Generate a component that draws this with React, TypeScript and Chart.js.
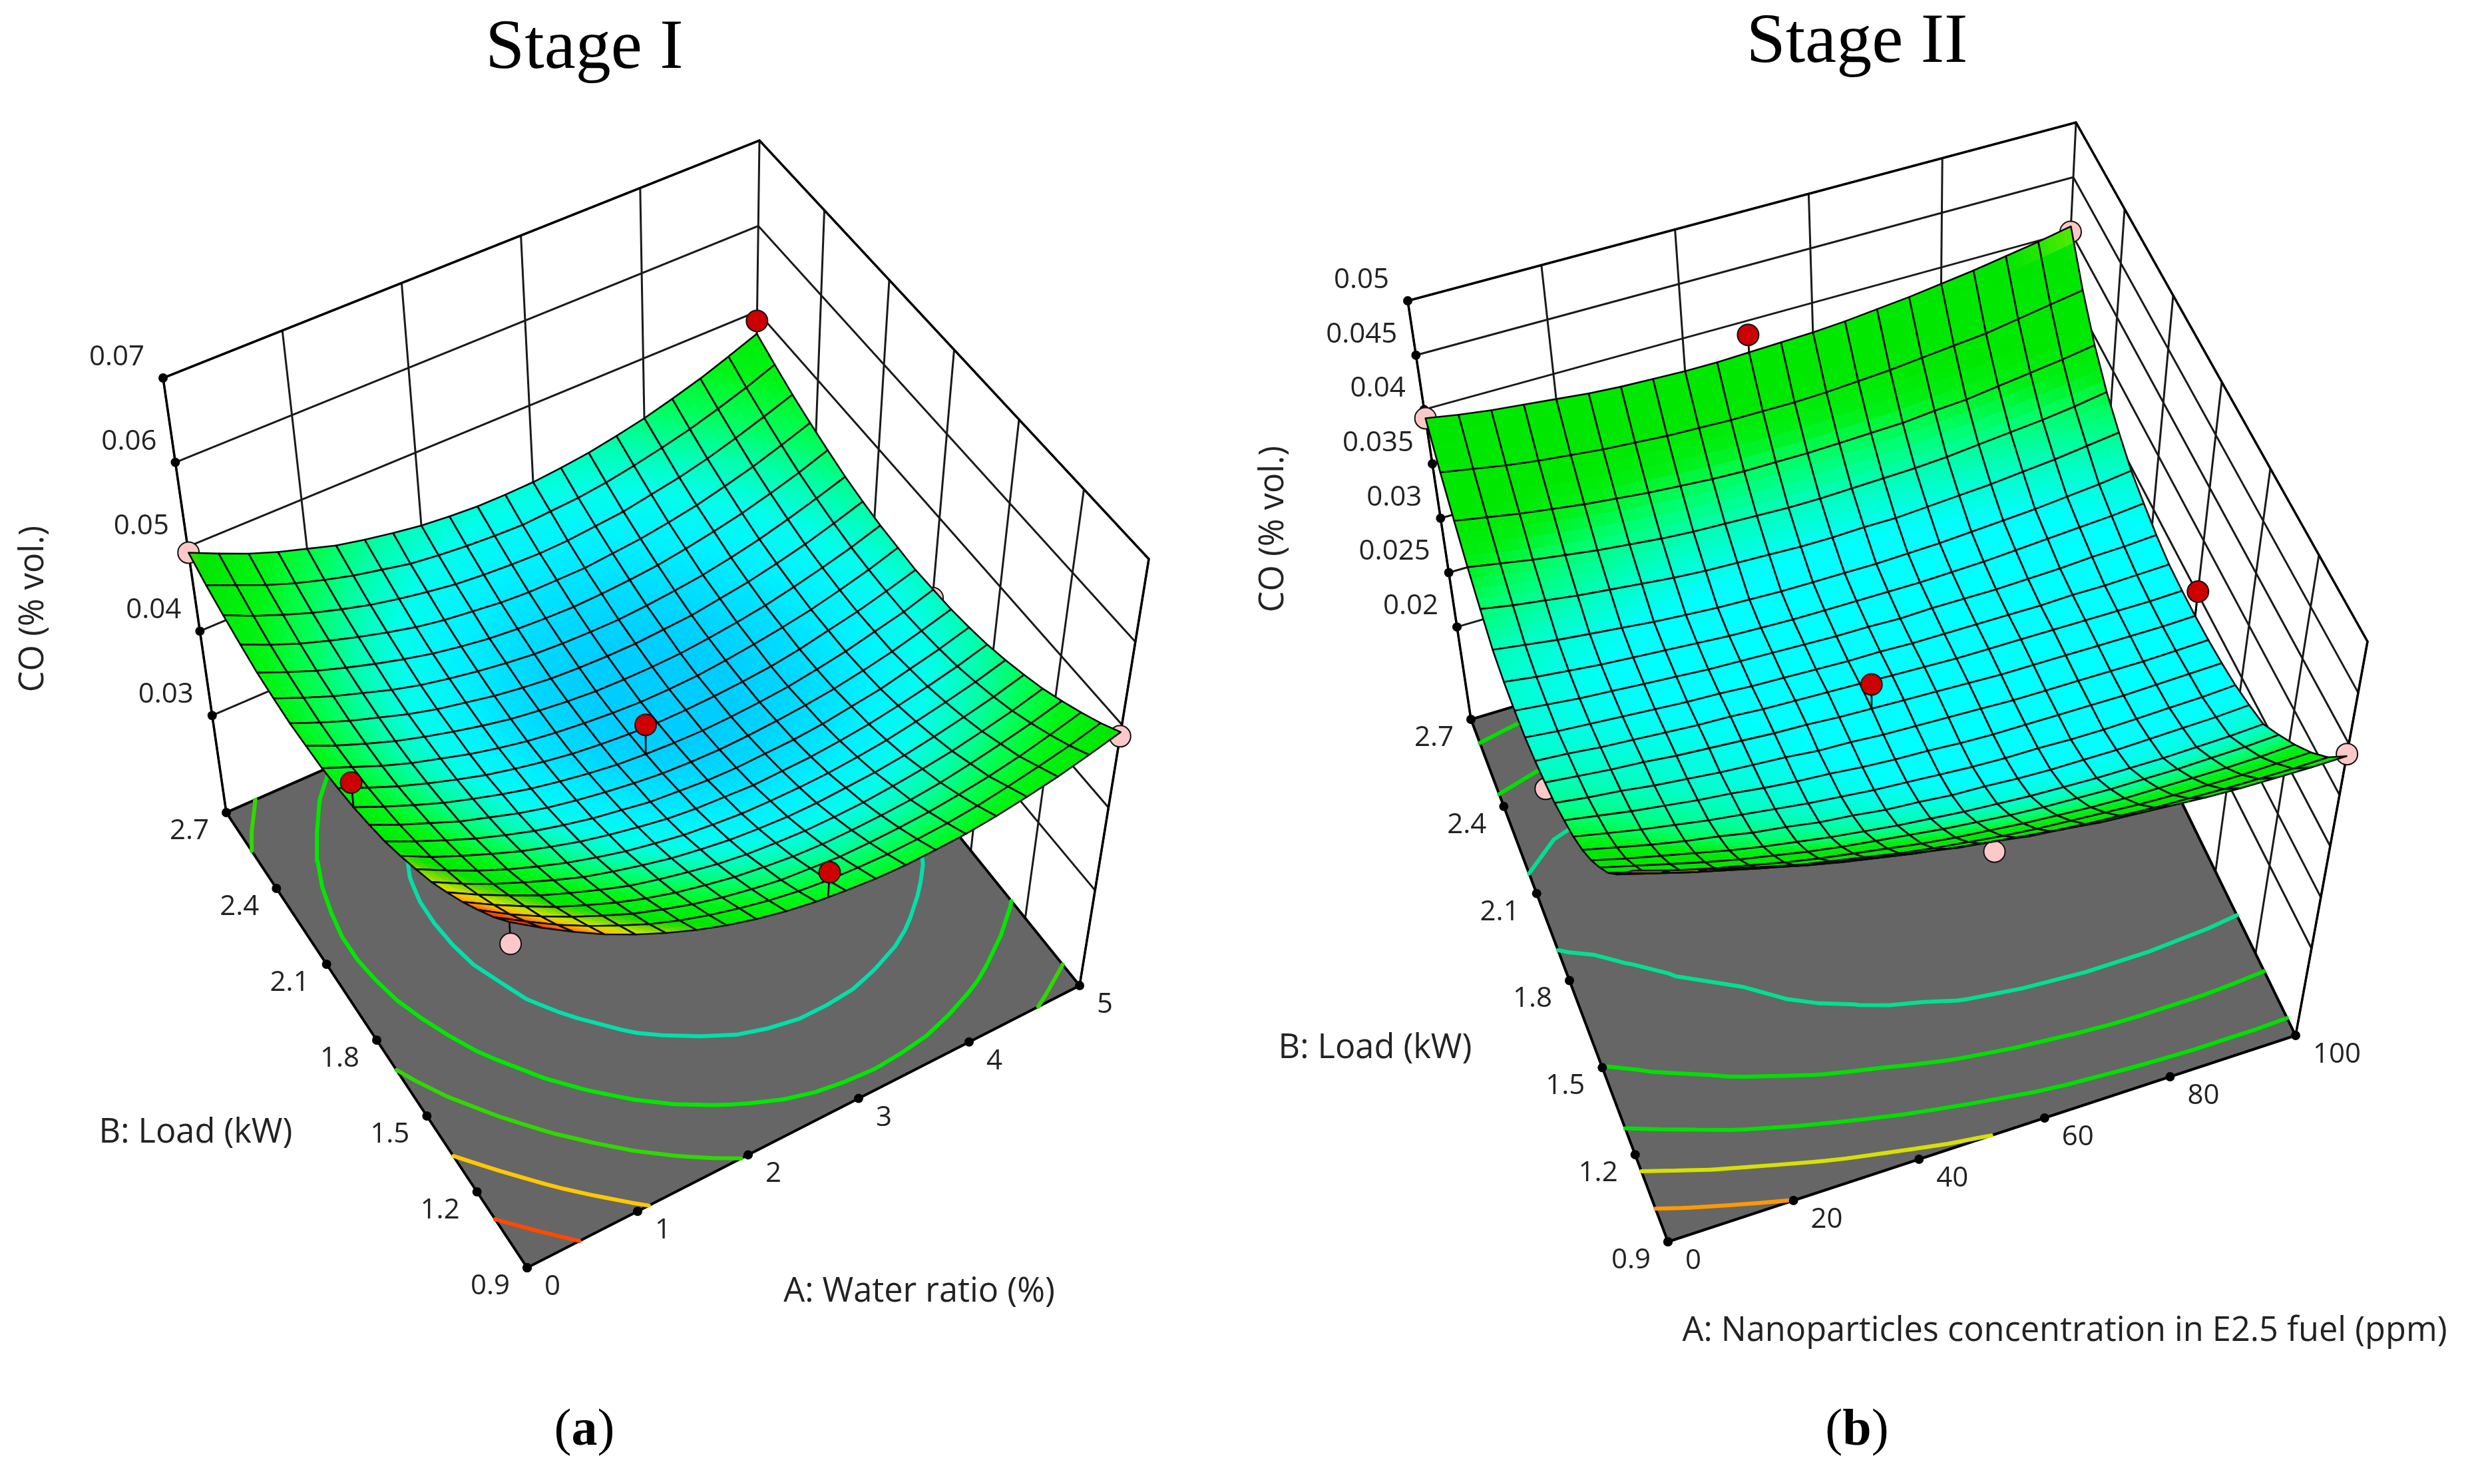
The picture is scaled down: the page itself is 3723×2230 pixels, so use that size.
import { useEffect, useRef } from 'react';
import { Chart, registerables } from 'chart.js';
Chart.register(...registerables);

const PAGE_H = 2230;
// Response-surface grid axes
const waterRatioGrid = [0,0.25,0.5,0.75,1,1.25,1.5,1.75,2,2.25,2.5,2.75,3,3.25,3.5,3.75,4,4.25,4.5,4.75,5];
const nanoGrid = [0,5,10,15,20,25,30,35,40,45,50,55,60,65,70,75,80,85,90,95,100];
const loadGrid = [0.9,0.99,1.08,1.17,1.26,1.35,1.44,1.53,1.62,1.71,1.8,1.89,1.98,2.07,2.16,2.25,2.34,2.43,2.52,2.61,2.7];
// CO (% vol.) x 10^-4, one row per load value, one column per A value
const coStageI = [
[613,588,565,544,526,510,496,484,474,466,460,456,453,452,453,455,459,465,472,481,491],
[590,567,545,526,509,493,480,469,460,452,446,442,440,439,440,442,446,452,459,467,477],
[570,547,527,509,493,478,466,455,446,439,433,430,427,427,428,430,434,439,446,455,465],
[551,530,511,493,478,464,452,442,434,427,422,418,416,416,417,419,423,429,436,444,454],
[534,514,496,479,465,452,440,431,423,416,411,408,406,406,407,410,414,419,426,434,444],
[518,499,482,467,453,440,430,421,413,407,402,399,397,397,399,401,405,411,418,426,436],
[505,487,470,455,442,430,420,411,404,398,394,391,390,390,391,394,398,404,411,419,429],
[493,475,460,446,433,422,412,404,397,391,387,385,383,384,385,388,392,398,405,413,423],
[482,466,451,437,425,414,405,397,391,385,382,379,378,379,380,383,388,393,401,409,419],
[474,458,444,430,419,408,399,392,386,381,377,375,374,375,377,380,384,390,397,406,416],
[467,452,438,425,414,404,395,388,382,377,374,372,371,372,374,377,382,388,396,404,415],
[462,447,433,421,410,400,392,385,379,375,372,370,370,371,373,376,381,388,395,404,414],
[458,444,430,418,408,398,390,383,378,374,371,369,369,370,373,377,382,388,396,405,416],
[457,442,429,417,407,398,390,383,378,374,371,370,370,371,374,378,383,390,398,407,418],
[456,442,429,418,407,398,391,384,379,375,373,372,372,374,376,381,386,393,401,411,422],
[458,444,431,420,409,400,393,387,382,378,376,375,375,377,380,384,390,397,406,416,427],
[461,447,434,423,413,404,396,390,385,382,380,379,380,382,385,390,396,403,412,422,434],
[467,452,439,428,418,409,401,395,391,387,385,385,385,388,391,396,402,410,419,430,442],
[474,459,446,434,424,415,408,402,397,394,392,391,392,395,398,404,410,418,428,439,451],
[482,468,454,442,432,423,416,409,405,402,400,399,401,403,407,413,420,428,438,449,462],
[493,478,464,452,442,432,425,419,414,411,409,409,410,413,417,423,430,439,449,461,474],
];
const coStageII = [
[479,469,460,451,443,435,428,422,416,410,406,401,398,394,392,390,388,387,387,387,388],
[450,440,431,423,415,407,400,394,388,383,378,374,370,367,365,363,362,361,361,361,362],
[422,413,404,396,388,381,375,369,363,358,354,350,347,345,343,341,340,340,340,341,342],
[397,388,380,372,365,358,352,347,342,337,333,330,327,325,323,322,322,322,322,323,325],
[376,368,360,352,345,339,333,328,324,320,316,313,310,308,307,306,306,306,307,308,310],
[357,349,342,335,328,322,317,312,308,304,301,298,296,294,293,292,292,292,293,294,296],
[341,334,327,321,316,310,306,301,298,294,292,289,288,286,285,285,285,286,287,288,290],
[328,322,316,311,306,302,298,294,291,288,286,284,282,281,281,280,280,281,282,283,285],
[318,313,308,304,300,297,293,290,288,285,283,282,280,279,279,279,279,279,280,281,282],
[309,305,302,298,295,292,290,288,285,284,282,281,280,279,278,278,278,278,278,279,280],
[303,300,297,295,292,290,288,286,285,283,282,281,280,279,278,278,278,278,278,278,279],
[298,296,293,291,289,287,286,284,283,282,281,280,279,278,278,278,278,278,278,278,279],
[295,292,290,288,286,284,283,281,280,279,278,278,277,277,277,277,277,278,278,279,280],
[295,292,289,287,285,283,281,280,279,278,277,277,276,277,277,277,278,279,281,282,284],
[297,293,290,287,285,283,281,279,278,277,277,277,277,277,278,279,281,283,285,287,290],
[302,298,294,291,288,285,283,281,280,279,279,279,279,280,281,283,285,287,290,293,297],
[315,310,306,302,299,296,293,291,290,289,288,288,289,289,291,293,295,298,301,305,309],
[329,324,319,315,311,308,305,303,302,301,300,300,301,302,303,305,308,311,314,318,323],
[347,342,337,333,329,326,323,321,319,318,318,318,319,320,321,324,326,330,334,338,343],
[367,362,357,353,350,347,345,343,342,341,341,341,342,344,346,349,352,355,360,365,370],
[392,387,383,380,377,374,372,371,370,370,371,372,373,375,378,381,385,389,394,399,405],
];
const stageITicksA = [0,1,2,3,4,5];
const stageIITicksA = [0,20,40,60,80,100];
const loadTicks = [0.9,1.2,1.5,1.8,2.1,2.4,2.7];
const stageITicksZ = [0.03,0.04,0.05,0.06,0.07];
const stageIITicksZ = [0.02,0.025,0.03,0.035,0.04,0.045,0.05];
const stageIContours = [0.05675,0.05195,0.04765,0.04425,0.04085];
const stageIIContours = [0.04425,0.04045,0.03695,0.03315,0.02975];
// Design points
const stageIBelowA = [0,5,5,0], stageIBelowB = [2.7,0.9,1.8,0.9], stageIBelowZ = [0.0493,0.0486,0.0405,0.0586];
const stageIAboveA = [5,2.5,0,2.6], stageIAboveB = [2.7,1.8,1.8,0.9], stageIAboveZ = [0.0489,0.0409,0.0497,0.0489];
const stageIIBelowA = [0,100,100,50,0], stageIIBelowB = [2.7,2.7,0.9,0.9,1.8], stageIIBelowZ = [0.0392,0.04,0.039,0.0396,0.0297];
const stageIIAboveA = [50,100,50], stageIIAboveB = [2.7,1.8,1.8], stageIIAboveZ = [0.0387,0.0302,0.0305];

type Cfg = any;
const toZ = (rows:number[][]) => rows.map(r=>r.map(x=>x/1e4));
const chartA: Cfg = {
  left:0,width:1756,title:'Stage I',titleTop:11,caption:'a',
  aName:'A: Water ratio (%)',bName:'B: Load (kW)',zName:'CO (% vol.)',
  aTicks:stageITicksA,bTicks:loadTicks,zTicks:stageITicksZ,
  zLabels:stageITicksZ.map(String),bLabels:loadTicks.map(String),aLabels:stageITicksA.map(String),
  floor:0.0185,top:0.07,gridA:waterRatioGrid,gridB:loadGrid,surface:toZ(coStageI),
  levels:stageIContours,
  levelColors:['#ff4a00','#ffc800','#30d800','#00e800','#00e0a8'],
  stops:[[0.0372,0,205,255],[0.039,0,240,255],[0.0405,0,255,235],[0.042,0,255,170],[0.0435,0,255,90],[0.0455,0,245,20],[0.0485,0,230,0],[0.0497,90,215,0],[0.052,200,230,0],[0.0535,255,190,0],[0.057,255,70,0],[0.061,255,20,0]],
  pinkA:stageIBelowA,pinkB:stageIBelowB,pinkZ:stageIBelowZ,
  redA:stageIAboveA,redB:stageIAboveB,redZ:stageIAboveZ,
  corners:[[792,1905],[1622,1481],[340,1221],[1132,873],[760,1280],[1726,840],[245,568],[1141,211]],
  aNamePos:[1381,1942],bNamePos:[294,1703],zNamePos:[51,915],capPos:[878,2151],
};
const chartB: Cfg = {
  left:1857,width:1866,title:'Stage II',titleTop:2,caption:'b',
  aName:'A: Nanoparticles concentration in E2.5 fuel (ppm)',bName:'B: Load (kW)',zName:'CO (% vol.)',
  aTicks:stageIITicksA,bTicks:loadTicks,zTicks:stageIITicksZ,
  zLabels:stageIITicksZ.map(String),bLabels:loadTicks.map(String),aLabels:stageIITicksA.map(String),
  floor:0.0115,top:0.05,gridA:nanoGrid,gridB:loadGrid,surface:toZ(coStageII),
  levels:stageIIContours,
  levelColors:['#ff9a00','#d8e000','#00e000','#00e000','#00e090'],
  stops:[[0.0285,0,255,255],[0.03,0,255,190],[0.0315,0,255,110],[0.033,0,240,20],[0.0345,0,232,0],[0.039,0,230,0],[0.0405,120,235,0],[0.042,190,240,0],[0.0445,255,200,0],[0.048,255,80,0]],
  pinkA:stageIIBelowA,pinkB:stageIIBelowB,pinkZ:stageIIBelowZ,
  redA:stageIIAboveA,redB:stageIIAboveB,redZ:stageIIAboveZ,
  corners:[[2506,1866],[3449,1556],[2210,1081],[3088,817],[2450,1276],[3557,964],[2115,452],[3119,184]],
  aNamePos:[3102,2001],bNamePos:[2066,1576],zNamePos:[1914,795],capPos:[2790,2151],
};

function camera(c: Cfg) {
  const a0=c.aTicks[0],a1=c.aTicks[c.aTicks.length-1],b0=c.bTicks[0],b1=c.bTicks[c.bTicks.length-1];
  const nu=(A:number)=>(A-a0)/(a1-a0),nv=(B:number)=>(B-b0)/(b1-b0),nw=(Z:number)=>(Z-c.floor)/(c.top-c.floor);
  const K=c.corners; // order: floor 00,10,01,11 then top 00,10,01,11
  const project=(A:number,B:number,Z:number)=>{
    const u=nu(A),v=nv(B),w=nw(Z);
    const f=(k:number)=>{
      const lo=K[0][k]*(1-u)*(1-v)+K[1][k]*u*(1-v)+K[2][k]*(1-u)*v+K[3][k]*u*v;
      const hi=K[4][k]*(1-u)*(1-v)+K[5][k]*u*(1-v)+K[6][k]*(1-u)*v+K[7][k]*u*v;
      return lo+(hi-lo)*w;};
    return {x:f(0),y:f(1)};};
  // far cells paint first: the back corner is farthest, higher points are nearer the viewer
  const depth=(A:number,B:number,Z:number)=>nu(A)+nv(B)-0.9*nw(Z);
  return {project,depth};
}
const GAP={x:NaN,y:NaN};
function colorAt(z:number,st:number[][]){
  if(z<=st[0][0])return `rgb(${st[0][1]},${st[0][2]},${st[0][3]})`;
  for(let i=1;i<st.length;i++){if(z<=st[i][0]){const t=(z-st[i-1][0])/(st[i][0]-st[i-1][0]);const f=(k:number)=>Math.round(st[i-1][k]+(st[i][k]-st[i-1][k])*t);return `rgb(${f(1)},${f(2)},${f(3)})`;}}
  const l=st[st.length-1];return `rgb(${l[1]},${l[2]},${l[3]})`;
}
function contour(c:Cfg,level:number,P:any){
  const out:any[]=[];const S=c.surface,gA=c.gridA,gB=c.gridB;
  for(let j=0;j<20;j++)for(let i=0;i<20;i++){
    const e=[[i,j,i+1,j],[i+1,j,i+1,j+1],[i+1,j+1,i,j+1],[i,j+1,i,j]];const pts:any[]=[];
    for(const [i0,j0,i1,j1] of e){const z0=S[j0][i0],z1=S[j1][i1];if((z0-level)*(z1-level)<0){const t=(level-z0)/(z1-z0);pts.push(P.project(gA[i0]+(gA[i1]-gA[i0])*t,gB[j0]+(gB[j1]-gB[j0])*t,c.floor));}}
    if(pts.length>=2){out.push(pts[0],pts[1],GAP);}if(pts.length===4){out.push(pts[2],pts[3],GAP);}
  }
  return out;
}
function nearest(arr:number[],v:number){let b=0;arr.forEach((x,i)=>{if(Math.abs(x-v)<Math.abs(arr[b]-v))b=i;});return b;}
function buildDatasets(c:Cfg,P:any){
  const a0=c.aTicks[0],a1=c.aTicks[c.aTicks.length-1],b0=c.bTicks[0],b1=c.bTicks[c.bTicks.length-1];
  const line=(label:string,data:any[],color:string,w:number,extra:any={})=>({label,data,showLine:true,borderColor:color,borderWidth:w,pointRadius:0,tension:0,borderCapStyle:'round',...extra});
  const ds:any[]=[];
  const floorPoly=[P.project(a0,b0,c.floor),P.project(a1,b0,c.floor),P.project(a1,b1,c.floor),P.project(a0,b1,c.floor),P.project(a0,b0,c.floor)];
  const wall:any[]=[];
  for(const z of c.zTicks){wall.push(P.project(a0,b1,z),P.project(a1,b1,z),P.project(a1,b0,z),GAP);}
  for(const A of c.aTicks){wall.push(P.project(A,b1,c.floor),P.project(A,b1,c.top),GAP);}
  for(const B of c.bTicks){wall.push(P.project(a1,B,c.floor),P.project(a1,B,c.top),GAP);}
  ds.push(line('Walls',wall,'#1a1a1a',3));
  const edge=[P.project(a0,b1,c.floor),P.project(a0,b1,c.top),P.project(a1,b1,c.top),P.project(a1,b0,c.top),P.project(a1,b0,c.floor)];
  ds.push(line('Box',edge,'#000',3.5));
  ds.push(line('Floor',floorPoly,'#000',4,{fill:'shape',backgroundColor:'#666666'}));
  c.levels.forEach((lv:number,i:number)=>ds.push(line('Contour '+lv,contour(c,lv,P),c.levelColors[i],6)));
  const tickPts=[...c.aTicks.map((A:number)=>P.project(A,b0,c.floor)),...c.bTicks.map((B:number)=>P.project(a0,B,c.floor)),...c.zTicks.map((z:number)=>P.project(a0,b1,z))];
  ds.push({label:'Ticks',data:tickPts,pointRadius:7,pointBackgroundColor:'#000',pointBorderWidth:0,showLine:false});
  const stems=(As:number[],Bs:number[],Zs:number[])=>{const o:any[]=[];As.forEach((A,i)=>{const s=c.surface[nearest(c.gridB,Bs[i])][nearest(c.gridA,A)];o.push(P.project(A,Bs[i],Zs[i]),P.project(A,Bs[i],s),GAP);});return o;};
  ds.push(line('Pink stems',stems(c.pinkA,c.pinkB,c.pinkZ),'#000',2.6));
  const ball=(label:string,As:number[],Bs:number[],Zs:number[],col:string)=>({label,data:As.map((A,i)=>P.project(A,Bs[i],Zs[i])),showLine:false,pointRadius:16,pointBackgroundColor:col,pointBorderColor:'#111',pointBorderWidth:2});
  ds.push(ball('Below surface',c.pinkA,c.pinkB,c.pinkZ,'#ffc8c8'));
  const nodes:any[]=[];c.gridB.forEach((B:number,j:number)=>c.gridA.forEach((A:number,i:number)=>nodes.push(P.project(A,B,c.surface[j][i]))));
  ds.push({label:'Surface',data:nodes,isSurface:true,showLine:false,pointRadius:0});
  ds.push(line('Red stems',stems(c.redA,c.redB,c.redZ),'#000',2.6));
  ds.push(ball('Above surface',c.redA,c.redB,c.redZ,'#cc0000'));
  ds.forEach((d,i)=>{d.order=ds.length-i;});
  return ds;
}
const FONT='"Open Sans"';
function makePlugin(c:Cfg,P:any){
  return {id:'resp3d',
    afterDatasetDraw(chart:any,args:any){
      const d=chart.data.datasets[args.index];if(!d.isSurface)return;
      const ctx=chart.ctx,sx=chart.scales.x,sy=chart.scales.y,S=c.surface,gA=c.gridA,gB=c.gridB;
      const px=(A:number,B:number,Z:number)=>{const p=P.project(A,B,Z);return [sx.getPixelForValue(p.x),sy.getPixelForValue(p.y)];};
      const cells:any[]=[];
      for(let j=0;j<20;j++)for(let i=0;i<20;i++)cells.push({i,j,d:P.depth((gA[i]+gA[i+1])/2,(gB[j]+gB[j+1])/2,(S[j][i]+S[j+1][i+1]+S[j][i+1]+S[j+1][i])/4)});
      cells.sort((a,b)=>b.d-a.d);
      const n=4;ctx.save();ctx.lineJoin='round';
      for(const {i,j} of cells){
        const z=(s:number,t:number)=>S[j][i]*(1-s)*(1-t)+S[j][i+1]*s*(1-t)+S[j+1][i]*(1-s)*t+S[j+1][i+1]*s*t;
        const q=(s:number,t:number)=>px(gA[i]+(gA[i+1]-gA[i])*s,gB[j]+(gB[j+1]-gB[j])*t,z(s,t));
        for(let a=0;a<n;a++)for(let b=0;b<n;b++){
          const s0=a/n,s1=(a+1)/n,t0=b/n,t1=(b+1)/n;
          const col=colorAt(z((s0+s1)/2,(t0+t1)/2),c.stops);
          ctx.fillStyle=col;ctx.strokeStyle=col;ctx.lineWidth=1;
          ctx.beginPath();const p=[q(s0,t0),q(s1,t0),q(s1,t1),q(s0,t1)];ctx.moveTo(p[0][0],p[0][1]);for(let k=1;k<4;k++)ctx.lineTo(p[k][0],p[k][1]);ctx.closePath();ctx.fill();ctx.stroke();
        }
        const e=[px(gA[i],gB[j],S[j][i]),px(gA[i+1],gB[j],S[j][i+1]),px(gA[i+1],gB[j+1],S[j+1][i+1]),px(gA[i],gB[j+1],S[j+1][i])];
        ctx.strokeStyle='#0a0a0a';ctx.lineWidth=2.6;ctx.beginPath();ctx.moveTo(e[0][0],e[0][1]);for(let k=1;k<4;k++)ctx.lineTo(e[k][0],e[k][1]);ctx.closePath();ctx.stroke();
      }
      ctx.restore();
    },
    afterDraw(chart:any){
      const ctx=chart.ctx,sx=chart.scales.x,sy=chart.scales.y;
      const a0=c.aTicks[0],b0=c.bTicks[0],b1=c.bTicks[c.bTicks.length-1];
      const X=(x:number)=>sx.getPixelForValue(x),Y=(y:number)=>sy.getPixelForValue(y);
      ctx.save();ctx.fillStyle='#222';ctx.textBaseline='middle';ctx.font=`42px ${FONT}`;
      ctx.textAlign='right';
      c.zTicks.forEach((z:number,i:number)=>{const p=P.project(a0,b1,z);ctx.fillText(c.zLabels[i],X(p.x)-28,Y(p.y)-31);});
      c.bTicks.forEach((B:number,i:number)=>{const p=P.project(a0,B,c.floor);ctx.fillText(c.bLabels[i],X(p.x)-26,Y(p.y)+28);});
      ctx.textAlign='left';
      c.aTicks.forEach((A:number,i:number)=>{const p=P.project(A,b0,c.floor);ctx.fillText(c.aLabels[i],X(p.x)+26,Y(p.y)+29);});
      ctx.textAlign='center';ctx.font=`50.5px ${FONT}`;
      ctx.fillText(c.aName,X(c.aNamePos[0]),Y(c.aNamePos[1]));
      ctx.fillText(c.bName,X(c.bNamePos[0]),Y(c.bNamePos[1]));
      ctx.save();ctx.translate(X(c.zNamePos[0]),Y(c.zNamePos[1]));ctx.rotate(-Math.PI/2);ctx.fillText(c.zName,0,0);ctx.restore();
      const cx=X(c.capPos[0]),cy=Y(c.capPos[1]);ctx.fillStyle='#000';ctx.textAlign='left';
      const reg='78px "Liberation Serif"',bold='bold 78px "Liberation Serif"';
      ctx.font=reg;const wp=ctx.measureText('(').width;ctx.font=bold;const wl=ctx.measureText(c.caption).width;
      let x=cx-(2*wp+wl)/2;ctx.font=reg;ctx.fillText('(',x,cy);x+=wp;ctx.font=bold;ctx.fillText(c.caption,x,cy);x+=wl;ctx.font=reg;ctx.fillText(')',x,cy);
      ctx.restore();
    }};
}
function Panel({c}:{c:Cfg}){
  const ref=useRef<HTMLCanvasElement>(null);
  useEffect(()=>{
    const P=camera(c);
    const lh=106*1.2,T=lh+c.titleTop;
    const chart=new Chart(ref.current as any,{type:'scatter',data:{datasets:buildDatasets(c,P)},plugins:[makePlugin(c,P)],
      options:{animation:false,responsive:false,devicePixelRatio:1,events:[],layout:{padding:0,autoPadding:false},
        scales:{x:{type:'linear',min:c.left,max:c.left+c.width,display:false},y:{type:'linear',min:T,max:PAGE_H,reverse:true,display:false}},
        plugins:{legend:{display:false},tooltip:{enabled:false},title:{display:true,text:c.title,color:'#000',font:{family:'"Liberation Serif"',size:106,weight:'normal',lineHeight:1.2},padding:{top:c.titleTop,bottom:0}}}}} as any);
    return ()=>chart.destroy();
  },[]);
  return <canvas ref={ref} width={c.width} height={PAGE_H} style={{position:'absolute',left:c.left,top:0,width:c.width,height:PAGE_H}}/>;
}
export default function App(){
  return <div style={{position:'absolute',left:0,top:0,width:3723,height:PAGE_H,background:'#fff',overflow:'hidden'}}><Panel c={chartA}/><Panel c={chartB}/></div>;
}
